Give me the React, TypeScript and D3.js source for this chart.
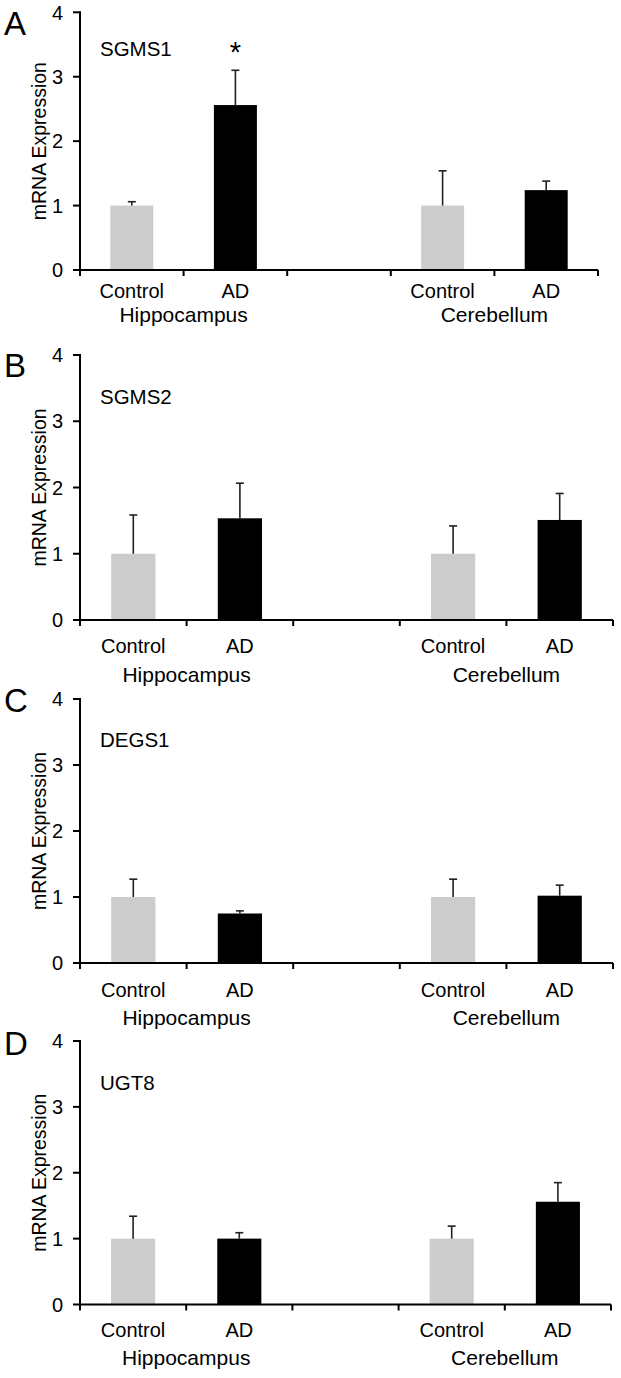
import React from "react";
import * as d3 from "d3";

// ---------- data ----------
const panelLetters = ["A", "B", "C", "D"];
const genes = ["SGMS1", "SGMS2", "DEGS1", "UGT8"];
const regions = ["Hippocampus", "Cerebellum"];
const conditions = ["Control", "AD"];
const slots = ["Hippocampus|Control", "Hippocampus|AD", "gap", "Cerebellum|Control", "Cerebellum|AD"];
const yTicks = [0, 1, 2, 3, 4];

// means per gene: [Hippo Control, Hippo AD, Cereb Control, Cereb AD]
const sgms1Mean = [1.0, 2.56, 1.0, 1.24];
const sgms1Err = [0.06, 0.54, 0.54, 0.14];
const sgms2Mean = [1.0, 1.535, 1.0, 1.51];
const sgms2Err = [0.585, 0.53, 0.42, 0.4];
const degs1Mean = [1.0, 0.75, 1.0, 1.02];
const degs1Err = [0.27, 0.04, 0.27, 0.16];
const ugt8Mean = [1.0, 1.0, 1.0, 1.56];
const ugt8Err = [0.34, 0.09, 0.19, 0.29];
// significance markers (index of bar)
const sgms1Sig = [1];

const means = [sgms1Mean, sgms2Mean, degs1Mean, ugt8Mean];
const errs = [sgms1Err, sgms2Err, degs1Err, ugt8Err];
const sigs = [sgms1Sig, [], [], []];

// ---------- layout ----------
const layouts = [
  { top: 12.3, bottom: 270, right: 598, geneY: 56, catY: 298, groupY: 322, letterY: 35 },
  { top: 355, bottom: 620, right: 613, geneY: 404, catY: 653, groupY: 682, letterY: 377 },
  { top: 699, bottom: 963, right: 613, geneY: 747, catY: 997, groupY: 1025, letterY: 712 },
  { top: 1041, bottom: 1304.5, right: 611, geneY: 1090, catY: 1337, groupY: 1365, letterY: 1055 },
];
const LEFT = 80;
const FONT = "'Liberation Sans', Arial, Helvetica, sans-serif";
const barColors: Record<string, string> = { Control: "#cccccc", AD: "#000000" };

function Panel({ idx }: { idx: number }) {
  const L = layouts[idx];
  const y = d3.scaleLinear().domain([0, 4]).range([L.bottom, L.top]);
  const x = d3.scaleBand().domain(slots).range([LEFT, L.right]).paddingInner(0).paddingOuter(0);
  const bw = x.bandwidth() * 0.415;
  const bars: { key: string; region: string; cond: string; v: number; e: number; sig: boolean }[] = [];
  let k = 0;
  regions.forEach((r) => {
    conditions.forEach((c) => {
      bars.push({ key: `${r}|${c}`, region: r, cond: c, v: means[idx][k], e: errs[idx][k], sig: sigs[idx].includes(k) });
      k++;
    });
  });
  const boundaries = slots.map((s) => x(s)!).concat([L.right]);
  return (
    <g>
      {/* bars */}
      {bars.map((b) => {
        const cx = x(b.key)! + x.bandwidth() / 2;
        return (
          <g key={b.key}>
            <rect x={cx - bw / 2} y={y(b.v)} width={bw} height={y(0) - y(b.v)} fill={barColors[b.cond]} />
            <line x1={cx} x2={cx} y1={y(b.v)} y2={y(b.v + b.e)} stroke="#222" strokeWidth={1.6} />
            <line x1={cx - 4} x2={cx + 4} y1={y(b.v + b.e)} y2={y(b.v + b.e)} stroke="#222" strokeWidth={1.6} />
            {b.sig && (
              <text x={cx} y={y(b.v + b.e) - 8} textAnchor="middle" fontSize={29} fontFamily={FONT} fill="#000">
                *
              </text>
            )}
            <text x={cx} y={L.catY} textAnchor="middle" fontSize={20} fontFamily={FONT} fill="#000">
              {b.cond}
            </text>
          </g>
        );
      })}
      {/* region labels */}
      {regions.map((r) => {
        const c1 = x(`${r}|Control`)! + x.bandwidth() / 2;
        const c2 = x(`${r}|AD`)! + x.bandwidth() / 2;
        return (
          <text key={r} x={(c1 + c2) / 2} y={L.groupY} textAnchor="middle" fontSize={21} fontFamily={FONT} fill="#000">
            {r}
          </text>
        );
      })}
      {/* x axis */}
      <line x1={LEFT} x2={L.right} y1={y(0)} y2={y(0)} stroke="#000" strokeWidth={2} />
      {boundaries.map((bx, i) => (
        <line key={i} x1={bx} x2={bx} y1={y(0)} y2={y(0) + 6} stroke="#000" strokeWidth={2} />
      ))}
      {/* y axis */}
      <line x1={LEFT} x2={LEFT} y1={y(4) - 1} y2={y(0) + 1} stroke="#000" strokeWidth={2} />
      {yTicks.map((t) => (
        <g key={t}>
          <line x1={LEFT - 7} x2={LEFT} y1={y(t)} y2={y(t)} stroke="#000" strokeWidth={2} />
          <text x={63} y={y(t)} dy="0.36em" textAnchor="end" fontSize={20} fontFamily={FONT} fill="#000">
            {t}
          </text>
        </g>
      ))}
      <text
        transform={`translate(46, ${(y(0) + y(4)) / 2}) rotate(-90)`}
        textAnchor="middle"
        fontSize={19.5}
        fontFamily={FONT}
        fill="#000"
      >
        mRNA Expression
      </text>
      <text x={100} y={L.geneY} fontSize={20.5} fontFamily={FONT} fill="#000">
        {genes[idx]}
      </text>
      <text x={4} y={L.letterY} fontSize={33} fontFamily={FONT} fill="#000">
        {panelLetters[idx]}
      </text>
    </g>
  );
}

export default function App() {
  return (
    <svg
      width={621}
      height={1378}
      viewBox="0 0 621 1378"
      style={{ position: "absolute", left: 0, top: 0, background: "#fff" }}
    >
      <rect x={0} y={0} width={621} height={1378} fill="#fff" />
      {layouts.map((_, i) => (
        <Panel key={i} idx={i} />
      ))}
    </svg>
  );
}
